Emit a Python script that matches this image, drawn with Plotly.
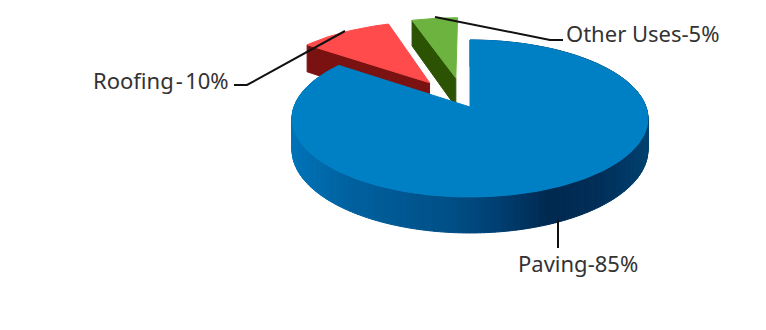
import numpy as np
import plotly.graph_objects as go

# Asphalt use by sector, percent of total
categories = ["Paving", "Roofing", "Other Uses"]
values = [85, 10, 5]
separators = ["-", "\u200a-\u200a", "-"]

# Colours per slice: top face, cut wall
top_colors = ["#0080C4", "#FF4B4B", "#6DB33F"]
wall_colors = ["#005A96", "#7A1212", "#2C5204"]

# Shading along the blue rim, from left to right across the page
rim_x = [293, 350, 450, 500, 550, 600, 648]
rim_rgb = [(0, 116, 184), (0, 98, 160), (0, 80, 136), (1, 64, 114),
           (0, 42, 80), (2, 48, 90), (1, 66, 112)]

# Projection of the tilted disc onto the page
CX, CY = 470.0, 107.0
B, A, K = 176.0, 76.8, 0.1465
DEPTH = 30.7
EXPLODE = 0.41
# Direction each small slice is pulled out along, degrees clockwise from the back
EXPLODE_DIR = {1: 324.0, 2: 348.0}


def project(u, v):
    den = 1 - K * v
    return CX + B * u / den, CY + A * v / den


def drop(v):
    return DEPTH / (1 - K * v)


def disc_point(theta, offset=(0.0, 0.0)):
    # theta in degrees, clockwise from the back of the disc
    t = np.radians(theta)
    return np.sin(t) + offset[0], -np.cos(t) + offset[1]


def poly(fig, xs, ys, color):
    fig.add_trace(go.Scatter(
        x=xs, y=ys, mode="lines", fill="toself", fillcolor=color,
        line=dict(color=color, width=1), hoverinfo="skip", showlegend=False,
    ))


def wall(fig, a, b, color):
    # Extruded quad between two disc points
    xa, ya = project(*a)
    xb, yb = project(*b)
    poly(fig, [xa, xb, xb, xa, xa],
         [ya, yb, yb + drop(b[1]), ya + drop(a[1]), ya], color)


fig = go.Figure()

# Cumulative slice angles
total = sum(values)
angles = np.cumsum([0] + values) / total * 360.0
spans = list(zip(angles[:-1], angles[1:]))

# Exploded slices go first so that the large slice overlaps them
for i in (2, 1):
    start, end = spans[i]
    mid = np.radians(EXPLODE_DIR[i])
    off = (np.sin(mid) * EXPLODE, -np.cos(mid) * EXPLODE)
    apex = off
    outer_start = disc_point(start, off)
    wall(fig, apex, outer_start, wall_colors[i])
    arc = [disc_point(t, off) for t in np.linspace(start, end, 30)]
    pts = [project(*apex)] + [project(*p) for p in arc] + [project(*apex)]
    poly(fig, [p[0] for p in pts], [p[1] for p in pts], top_colors[i])

# Rim of the large slice, in thin shaded strips
start, end = spans[0]
steps = np.arange(start, end, 1.0)
for t0 in steps:
    p0 = disc_point(t0)
    p1 = disc_point(min(t0 + 1.1, end))
    xm = project(*p0)[0]
    rgb = [np.interp(xm, rim_x, [c[k] for c in rim_rgb]) for k in range(3)]
    wall(fig, p0, p1, "rgb(%d,%d,%d)" % tuple(rgb))

arc = [disc_point(t) for t in np.linspace(start, end, 240)]
pts = [project(0, 0)] + [project(*p) for p in arc] + [project(0, 0)]
poly(fig, [p[0] for p in pts], [p[1] for p in pts], top_colors[0])

# Leader lines
leaders = [
    ([558, 558], [220, 248]),
    ([234, 247, 345], [85, 85, 31]),
    ([435, 550, 563], [17, 40, 40]),
]
for lx, ly in leaders:
    fig.add_trace(go.Scatter(
        x=lx, y=ly, mode="lines", line=dict(color="#111111", width=2),
        hoverinfo="skip", showlegend=False,
    ))

# Slice labels
label_pos = [(518, 263), (93, 80), (566, 33)]
annotations = []
for name, val, sep, (lx, ly) in zip(categories, values, separators, label_pos):
    annotations.append(dict(
        x=lx, y=ly, text=f"{name}{sep}{val}%", showarrow=False,
        xanchor="left", yanchor="middle", xshift=-2,
        font=dict(family="Noto Sans", size=22, color="#333333"),
    ))

fig.update_layout(
    width=766, height=330, margin=dict(l=0, r=0, t=0, b=0),
    paper_bgcolor="white", plot_bgcolor="white", showlegend=False,
    xaxis=dict(range=[0, 766], visible=False, fixedrange=True),
    yaxis=dict(range=[330, 0], visible=False, fixedrange=True),
    annotations=annotations,
)

fig.write_html("out.html", config=dict(displayModeBar=False))
